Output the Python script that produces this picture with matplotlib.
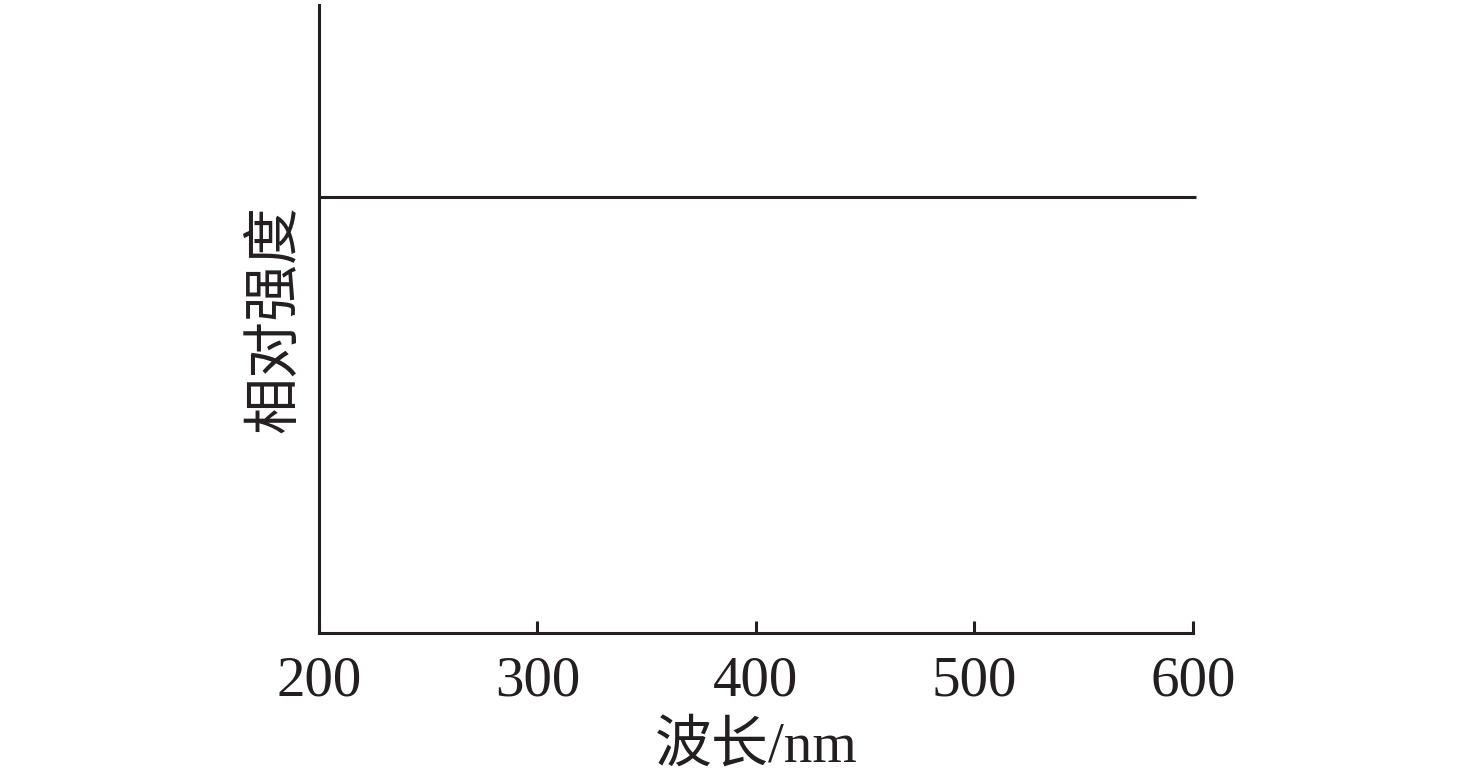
import matplotlib
matplotlib.use('Agg')
import matplotlib.pyplot as plt

# data
wavelength = [200, 601.5]
intensity = [0.695, 0.695]
x_ticks = [200, 300, 400, 500, 600]

plt.rcParams['font.family'] = ['Liberation Serif', 'Noto Sans CJK SC']

fig = plt.figure(figsize=(14.76, 7.83), dpi=100)
ax = fig.add_axes([0.2161, 0.1916, 0.5921, 0.802])

ax.plot(wavelength, intensity, color='#231f20', lw=2.2, clip_on=False, solid_capstyle='butt')

ax.set_xlim(200, 600)
ax.set_ylim(0, 1)
ax.set_xticks(x_ticks)
ax.set_yticks([])

for side in ['top', 'right']:
    ax.spines[side].set_visible(False)
for side in ['left', 'bottom']:
    ax.spines[side].set_linewidth(2.2)
    ax.spines[side].set_color('#231f20')

ax.tick_params(axis='x', direction='in', length=9, width=2.2, color='#231f20',
               labelsize=41, pad=16, labelcolor='#231f20')

ax.set_xlabel('波长/nm', fontsize=41, color='#231f20', labelpad=10)
ax.set_ylabel('相对强度', fontsize=41, color='#231f20', labelpad=11)

fig.savefig('out.png', dpi=100)
